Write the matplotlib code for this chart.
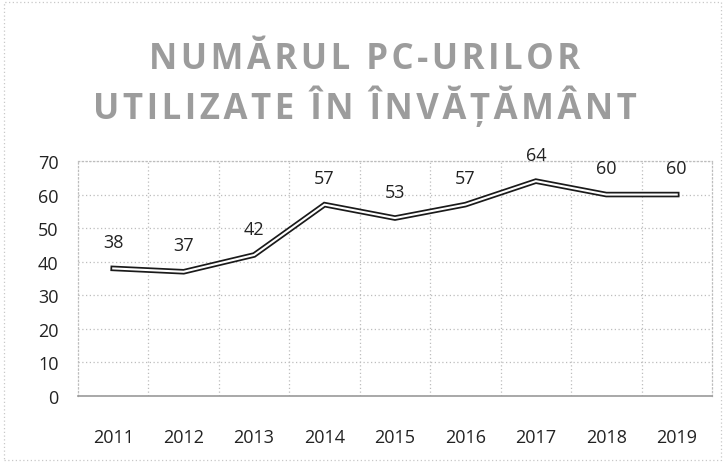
import matplotlib.pyplot as plt
from matplotlib.patches import Rectangle

years = ["2011", "2012", "2013", "2014", "2015", "2016", "2017", "2018", "2019"]
pcs = [38, 37, 42, 57, 53, 57, 64, 60, 60]
y_ticks = [0, 10, 20, 30, 40, 50, 60, 70]
title_lines = ["NUMĂRUL PC-URILOR", "UTILIZATE ÎN ÎNVĂȚĂMÂNT"]

plt.rcParams["font.family"] = ["Open Sans", "DejaVu Sans"]

fig = plt.figure(figsize=(7.25, 4.64), dpi=100)
ax = fig.add_axes([0.1076, 0.1444, 0.8744, 0.5065])

x = list(range(len(years)))
# double line: dark stroke with white core
ax.plot(x, pcs, color="#1a1a1a", linewidth=4.0, solid_joinstyle="miter", zorder=3)
ax.plot(x, pcs, color="white", linewidth=1.5, solid_joinstyle="miter", zorder=4)

for xi, v in zip(x, pcs):
    ax.annotate(str(v), (xi, v), xytext=(0, 19), textcoords="offset points",
                ha="center", va="center", fontsize=13, color="#222222")

ax.set_xlim(-0.5, len(years) - 0.5)
ax.set_ylim(0, 70)
ax.set_yticks(y_ticks)
ax.set_xticks(x)
ax.set_xticklabels(years)
ax.set_xticks([i + 0.5 for i in x[:-1]], minor=True)
ax.tick_params(axis="both", which="both", length=0, labelsize=13, colors="#222222")
ax.tick_params(axis="x", pad=23)
ax.tick_params(axis="y", pad=14)

ax.grid(True, axis="y", which="major", color="#bdbdbd", linestyle=(0, (1, 2)), linewidth=0.9)
ax.grid(True, axis="x", which="minor", color="#bdbdbd", linestyle=(0, (1, 2)), linewidth=0.9)
ax.grid(False, axis="x", which="major")
ax.set_axisbelow(True)
for side in ["left", "right", "top"]:
    ax.spines[side].set_color("#bdbdbd")
    ax.spines[side].set_linestyle((0, (1, 2)))
    ax.spines[side].set_linewidth(0.9)
ax.spines["bottom"].set_color("#9a9a9a")
ax.spines["bottom"].set_linestyle((0, (1, 1)))
ax.spines["bottom"].set_linewidth(1.2)

# slightly wider letter spacing in the title, done with hair spaces
for line, y in zip(title_lines, [0.870, 0.768]):
    spaced = "\u200a".join(line)
    fig.text(0.503, y, spaced, ha="center", va="center", fontsize=25,
             fontweight="bold", color="#9c9c9c")

fig.patches.append(Rectangle((0.006, 0.006), 0.988, 0.988, transform=fig.transFigure,
                             fill=False, edgecolor="#c8c8c8", linestyle=(0, (1, 2)),
                             linewidth=0.9))

fig.savefig("out.png", dpi=100)
